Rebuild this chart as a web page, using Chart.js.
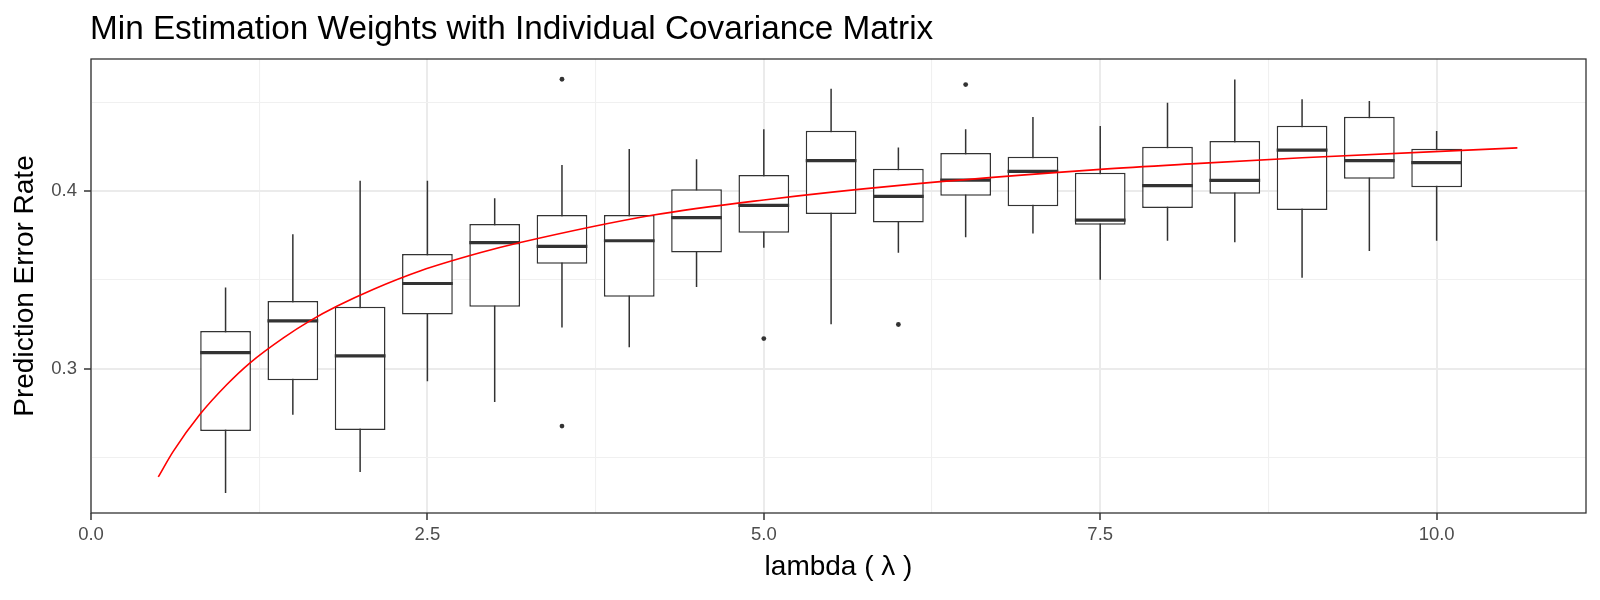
<!DOCTYPE html>
<html>
<head>
<meta charset="utf-8">
<script src="https://cdn.jsdelivr.net/npm/chart.js@4/dist/chart.umd.min.js"></script>
<style>
  html, body { margin: 0; padding: 0; background: #ffffff; }
  #wrap { position: relative; width: 1600px; height: 600px; }
  #title { position: absolute; left: 90px; top: 8px; font-family: "Liberation Sans", Arial, sans-serif; font-size: 33.3px; line-height: 40px; color: #000; white-space: nowrap; }
  canvas { position: absolute; left: 0; top: 0; }
</style>
</head>
<body>
<div id="wrap">
  <canvas id="c" width="1600" height="600"></canvas>
  <div id="title">Min Estimation Weights with Individual Covariance Matrix</div>
</div>
<script>
// ---- data ----
const lambdaValues = [1, 1.5, 2, 2.5, 3, 3.5, 4, 4.5, 5, 5.5, 6, 6.5, 7, 7.5, 8, 8.5, 9, 9.5, 10];
const whiskerLow  = [0.2299, 0.2740, 0.2417, 0.2928, 0.2812, 0.3231, 0.3120, 0.3460, 0.3680, 0.3250, 0.3652, 0.3739, 0.3761, 0.3500, 0.3720, 0.3711, 0.3511, 0.3662, 0.3720];
const quartile1   = [0.2648, 0.2934, 0.2654, 0.3304, 0.3348, 0.3590, 0.3404, 0.3654, 0.3765, 0.3870, 0.3823, 0.3974, 0.3915, 0.3810, 0.3904, 0.3985, 0.3893, 0.4069, 0.4021];
const medians     = [0.3090, 0.3269, 0.3071, 0.3479, 0.3709, 0.3688, 0.3720, 0.3850, 0.3919, 0.4171, 0.3970, 0.4062, 0.4111, 0.3836, 0.4030, 0.4060, 0.4231, 0.4171, 0.4160];
const quartile3   = [0.3212, 0.3381, 0.3348, 0.3645, 0.3814, 0.3865, 0.3865, 0.4010, 0.4090, 0.4340, 0.4126, 0.4214, 0.4193, 0.4103, 0.4250, 0.4282, 0.4368, 0.4419, 0.4239];
const whiskerHigh = [0.3457, 0.3757, 0.4058, 0.4058, 0.3959, 0.4147, 0.4237, 0.4179, 0.4348, 0.4577, 0.4246, 0.4348, 0.4417, 0.4367, 0.4498, 0.4628, 0.4517, 0.4508, 0.4338];
const outlierX = [3.5, 3.5, 5, 6, 6.5];
const outlierY = [0.4630, 0.2676, 0.3169, 0.3248, 0.4600];
const curveX = [0.50, 0.61, 0.81, 1.01, 1.18, 1.43, 1.63, 1.83, 2.10, 2.45, 2.89, 3.19, 4.18, 5.00, 6.01, 7.50, 8.24, 9.00, 10.60];
const curveY = [0.2389, 0.2532, 0.2742, 0.2910, 0.3031, 0.3173, 0.3270, 0.3352, 0.3447, 0.3551, 0.3652, 0.3710, 0.3865, 0.3950, 0.4032, 0.4122, 0.4156, 0.4188, 0.4243];
const xTicks = [0, 1.25, 2.5, 3.75, 5, 6.25, 7.5, 8.75, 10];
const xMajorTicks = [0, 2.5, 5, 7.5, 10];
const yTicks = [0.25, 0.3, 0.35, 0.4, 0.45];
const yMajorTicks = [0.3, 0.4];
const xLimits = [0, 11.11];
const yLimits = [0.2186, 0.4744];

// ---- styles ----
const BOX_HALF = 0.1885;
const INK = '#333333';
const FONT = '"Liberation Sans", Arial, sans-serif';

const isMajor = (list, v) => list.some(m => Math.abs(m - v) < 1e-9);
const tickIsMajor = (list, c) => !!(c && c.tick && isMajor(list, c.tick.value));

const boxData = lambdaValues.map((x, i) => ({ x: x, y: [quartile1[i], quartile3[i]] }));
const whiskerData = [];
lambdaValues.forEach((x, i) => {
  whiskerData.push({ x: x, y: whiskerLow[i] }, { x: x, y: whiskerHigh[i] }, { x: x, y: null });
});
const medianData = [];
lambdaValues.forEach((x, i) => {
  medianData.push({ x: x - BOX_HALF, y: medians[i] }, { x: x + BOX_HALF, y: medians[i] }, { x: x, y: null });
});
const outlierData = outlierX.map((x, i) => ({ x: x, y: outlierY[i] }));
const curveData = curveX.map((x, i) => ({ x: x, y: curveY[i] }));

const panelBorder = {
  id: 'panelBorder',
  afterDraw(chart) {
    const a = chart.chartArea, ctx = chart.ctx;
    ctx.save();
    ctx.strokeStyle = INK;
    ctx.lineWidth = 1.3;
    ctx.strokeRect(a.left, a.top, a.right - a.left, a.bottom - a.top);
    ctx.restore();
  }
};

function gridFor(list) {
  return {
    offset: false,
    color: (c) => tickIsMajor(list, c) ? '#EBEBEB' : '#F0F0F0',
    lineWidth: (c) => tickIsMajor(list, c) ? 2 : 1.1,
    tickColor: (c) => tickIsMajor(list, c) ? INK : 'rgba(0,0,0,0)',
    tickLength: 7, tickWidth: 1.5, drawTicks: true
  };
}

new Chart(document.getElementById('c'), {
  type: 'bar',
  data: {
    datasets: [
      { type: 'line', label: 'fit', data: curveData, borderColor: '#FF0000', borderWidth: 1.6,
        pointRadius: 0, cubicInterpolationMode: 'monotone', fill: false, order: 0 },
      { type: 'line', label: 'median', data: medianData, borderColor: INK, borderWidth: 3.2,
        borderCapStyle: 'butt', pointRadius: 0, spanGaps: false, tension: 0, fill: false, order: 1 },
      { type: 'scatter', label: 'outliers', data: outlierData, backgroundColor: INK, borderColor: INK,
        pointRadius: 2.4, borderWidth: 0, order: 2 },
      { type: 'bar', label: 'box', data: boxData, backgroundColor: '#FFFFFF', borderColor: INK,
        borderWidth: 1.5, borderSkipped: false, categoryPercentage: 1.0, barPercentage: 0.754,
        grouped: false, order: 3 },
      { type: 'line', label: 'whisker', data: whiskerData, borderColor: INK, borderWidth: 1.5,
        pointRadius: 0, spanGaps: false, tension: 0, fill: false, order: 4 }
    ]
  },
  options: {
    responsive: false,
    devicePixelRatio: 1,
    animation: false,
    layout: { padding: { top: 59, right: 14, left: 0, bottom: 0 } },
    plugins: { legend: { display: false }, tooltip: { enabled: false }, title: { display: false } },
    scales: {
      x: {
        type: 'linear', min: xLimits[0], max: xLimits[1], offset: false,
        afterFit(s) { s.height = 87; },
        afterBuildTicks(s) { s.ticks = xTicks.map(v => ({ value: v })); },
        ticks: {
          autoSkip: false, maxRotation: 0, padding: 4, color: '#4D4D4D',
          font: { family: FONT, size: 18.5 },
          callback: (v) => isMajor(xMajorTicks, v) ? v.toFixed(1) : ''
        },
        grid: gridFor(xMajorTicks),
        border: { display: false },
        title: { display: true, text: 'lambda ( \u03BB )', color: '#000000',
                 font: { family: FONT, size: 28 }, padding: { top: 0, bottom: 16 } }
      },
      y: {
        type: 'linear', min: yLimits[0], max: yLimits[1],
        afterFit(s) { s.width = 91; },
        afterBuildTicks(s) { s.ticks = yTicks.map(v => ({ value: v })); },
        ticks: {
          autoSkip: false, padding: 7, color: '#4D4D4D',
          font: { family: FONT, size: 18.5 },
          callback: (v) => isMajor(yMajorTicks, v) ? v.toFixed(1) : ''
        },
        grid: gridFor(yMajorTicks),
        border: { display: false },
        title: { display: true, text: 'Prediction Error Rate', color: '#000000',
                 font: { family: FONT, size: 28 }, padding: { top: 8, bottom: 0 } }
      }
    }
  },
  plugins: [panelBorder]
});
</script>
</body>
</html>
